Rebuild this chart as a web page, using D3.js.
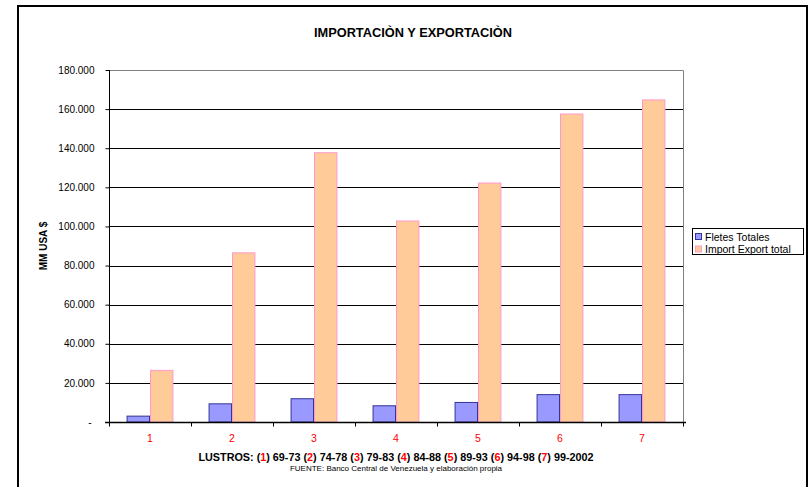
<!DOCTYPE html>
<html>
<head>
<meta charset="utf-8">
<script src="https://cdn.jsdelivr.net/npm/d3@7/dist/d3.min.js"></script>
<style>
  html, body { margin: 0; padding: 0; background: #fff; }
  svg { display: block; font-family: "Liberation Sans", Arial, sans-serif; }
</style>
</head>
<body>
<svg id="chart" width="808" height="487"></svg>
<script>
// Lustros (five-year periods) and values in MM USA $
const categories = ["1", "2", "3", "4", "5", "6", "7"];
const fletesTotales = [3000, 9300, 11900, 8300, 10000, 14000, 14000];
const importExport = [26400, 86500, 137700, 102800, 122200, 157500, 164700];
const seriesNames = ["Fletes Totales", "Import Export total"];
const yTicks = [0, 20000, 40000, 60000, 80000, 100000, 120000, 140000, 160000, 180000];
const periods = ["69-73", "74-78", "79-83", "84-88", "89-93", "94-98", "99-2002"];

const fills = ["#9999FF", "#FFCC99"];
const strokes = ["#333399", "#FF99CC"];

const svg = d3.select("#chart");
const plot = { left: 109, right: 683, top: 70, bottom: 422 };

// outer chart frame
svg.append("rect")
  .attr("x", 18).attr("y", 6)
  .attr("width", 789).attr("height", 484)
  .attr("fill", "none").attr("stroke", "#000").attr("stroke-width", 2);

svg.append("text")
  .attr("x", 413).attr("y", 37)
  .attr("text-anchor", "middle")
  .attr("font-size", 12.8).attr("font-weight", "bold")
  .text("IMPORTACIÒN Y EXPORTACIÒN");

const x0 = d3.scaleBand().domain(categories).range([plot.left, plot.right]).paddingInner(0).paddingOuter(0);
const y = d3.scaleLinear().domain([0, 180000]).range([plot.bottom, plot.top]);

// bar width per series: gap width 150% of a bar
const bw = x0.bandwidth() / 3.5;

// gridlines
svg.append("g").selectAll("line")
  .data(yTicks.filter(t => t > 0 && t < 180000))
  .join("line")
  .attr("x1", plot.left).attr("x2", plot.right)
  .attr("y1", d => Math.round(y(d)) + 0.5).attr("y2", d => Math.round(y(d)) + 0.5)
  .attr("stroke", "#000").attr("stroke-width", 1);

// plot area border (top and right)
svg.append("path")
  .attr("d", `M${plot.left},${plot.top + 0.5}H${plot.right + 0.5}V${plot.bottom}`)
  .attr("fill", "none").attr("stroke", "#808080").attr("stroke-width", 1);

// bars
const series = [fletesTotales, importExport];
series.forEach((vals, si) => {
  svg.append("g").selectAll("rect")
    .data(vals)
    .join("rect")
    .attr("x", (d, i) => x0(categories[i]) + x0.bandwidth() / 2 - bw + si * bw + 0.5)
    .attr("y", d => y(d))
    .attr("width", bw - 1)
    .attr("height", d => plot.bottom - y(d))
    .attr("fill", fills[si])
    .attr("stroke", strokes[si]).attr("stroke-width", 1);
});

// y axis
const yAxis = d3.axisLeft(y).tickValues(yTicks).tickSize(4).tickPadding(11)
  .tickFormat(d => d === 0 ? "-" : (d / 1000).toFixed(0) + ".000");
const gy = svg.append("g").attr("transform", `translate(${plot.left + 0.5},0)`).call(yAxis);
gy.select(".domain").attr("d", `M0,${plot.top}V${plot.bottom}`).attr("stroke", "#000");
gy.selectAll(".tick line").attr("stroke", "#000");
gy.selectAll(".tick text")
  .attr("font-family", "Liberation Sans, Arial, sans-serif")
  .attr("font-size", 10).attr("fill", "#000");
gy.selectAll(".tick").filter(d => d === 0).select("text").attr("dx", -3);

// x axis: ticks at category boundaries
const gx = svg.append("g").attr("transform", `translate(0,${plot.bottom + 0.5})`);
gx.append("line")
  .attr("x1", plot.left - 4).attr("x2", plot.right + 3)
  .attr("stroke", "#000").attr("stroke-width", 1.5);
const bounds = categories.map(c => x0(c)).concat([plot.right]);
gx.selectAll(".bt").data(bounds).join("line")
  .attr("class", "bt")
  .attr("x1", d => Math.round(d) + 0.5).attr("x2", d => Math.round(d) + 0.5)
  .attr("y1", 0).attr("y2", 4)
  .attr("stroke", "#000");
gx.selectAll(".cl").data(categories).join("text")
  .attr("class", "cl")
  .attr("x", d => x0(d) + x0.bandwidth() / 2)
  .attr("y", 19)
  .attr("text-anchor", "middle")
  .attr("font-size", 10.5).attr("fill", "#FF0000")
  .text(d => d);

// y axis title
svg.append("text")
  .attr("transform", "translate(47,246) rotate(-90)")
  .attr("text-anchor", "middle")
  .attr("font-size", 10).attr("font-weight", "bold")
  .text("MM USA $");

// x axis title with red period numbers
const xt = svg.append("text")
  .attr("x", 396).attr("y", 461)
  .attr("text-anchor", "middle")
  .attr("font-size", 10.8).attr("font-weight", "bold");
xt.append("tspan").text("LUSTROS: ");
categories.forEach((c, i) => {
  xt.append("tspan").text("(");
  xt.append("tspan").attr("fill", "#FF0000").text(c);
  xt.append("tspan").text(") " + periods[i] + (i < categories.length - 1 ? " " : ""));
});

svg.append("text")
  .attr("x", 396).attr("y", 471)
  .attr("text-anchor", "middle")
  .attr("font-size", 8)
  .text("FUENTE: Banco Central de Venezuela y elaboración propia");

// legend
const lg = svg.append("g").attr("transform", "translate(692,228)");
lg.append("rect").attr("x", 0.5).attr("y", 0.5).attr("width", 111).attr("height", 26)
  .attr("fill", "#fff").attr("stroke", "#000");
seriesNames.forEach((n, i) => {
  lg.append("rect").attr("x", 3.5).attr("y", 5.5 + i * 12.5).attr("width", 6).attr("height", 6)
    .attr("fill", fills[i]).attr("stroke", strokes[i]);
  lg.append("text").attr("x", 13).attr("y", 12.5 + i * 12.5)
    .attr("font-size", 10.5).text(n);
});
</script>
</body>
</html>
